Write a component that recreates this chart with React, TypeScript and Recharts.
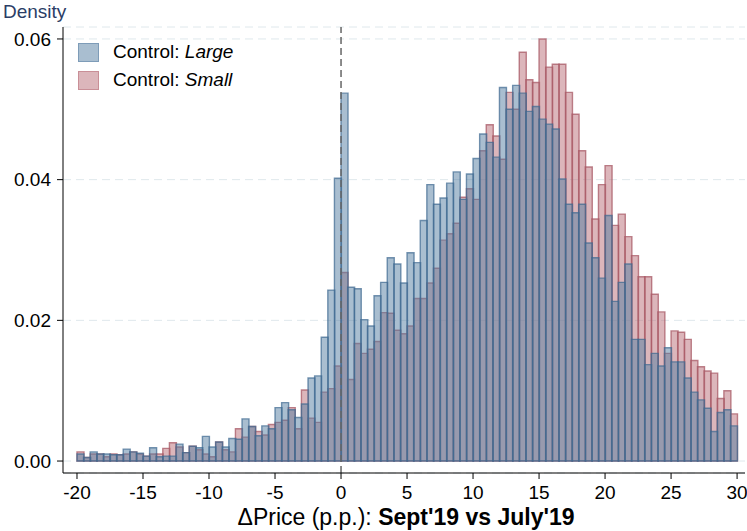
import React from "react";
import {
  Bar,
  ComposedChart,
  CartesianGrid,
  Label,
  Legend,
  ReferenceLine,
  XAxis,
  YAxis,
} from "recharts";

// histogram bins: 0.5 p.p. wide, first bin starts at -20
const binStart = -20;
const binWidth = 0.5;

// density per bin
const largeDensity = [
  0.001, 0.0005, 0.0013, 0.001, 0.001, 0.0009, 0.0009, 0.0017, 0.0013, 0.0011,
  0.0007, 0.0019, 0.0006, 0.0007, 0.0007, 0.0024, 0.0012, 0.0021, 0.0019, 0.0035,
  0.002, 0.0027, 0.002, 0.0032, 0.0031, 0.006, 0.0049, 0.0036, 0.005, 0.0046,
  0.0076, 0.0083, 0.0073, 0.0062, 0.0081, 0.0118, 0.0121, 0.0176, 0.0243, 0.0402,
  0.0523, 0.0247, 0.0245, 0.0201, 0.0192, 0.0235, 0.0254, 0.0289, 0.028, 0.0253,
  0.0296, 0.0282, 0.0342, 0.0393, 0.0365, 0.0374, 0.0395, 0.0411, 0.0372, 0.0408,
  0.043, 0.0465, 0.0453, 0.0432, 0.0531, 0.05, 0.0534, 0.0523, 0.0497, 0.0504,
  0.0486, 0.0479, 0.0472, 0.0401, 0.0365, 0.0353, 0.0365, 0.031, 0.0289, 0.026,
  0.0349, 0.0227, 0.0254, 0.028, 0.0173, 0.0173, 0.0137, 0.0153, 0.0135, 0.0161,
  0.0141, 0.0141, 0.0118, 0.0098, 0.0087, 0.0075, 0.0042, 0.0069, 0.0073, 0.005,
];

const smallDensity = [
  0.0013, 0.0005, 0.001, 0.001, 0.0006, 0.001, 0.0009, 0.001, 0.0013, 0.001,
  0.0007, 0.001, 0.001, 0.0018, 0.0026, 0.002, 0.0012, 0.0021, 0.0016, 0.001,
  0.0006, 0.0027, 0.0016, 0.0013, 0.0046, 0.0034, 0.0049, 0.0042, 0.0037, 0.0052,
  0.0055, 0.0058, 0.0076, 0.0046, 0.0101, 0.0061, 0.0055, 0.0098, 0.0103, 0.0135,
  0.0268, 0.0116, 0.0167, 0.0153, 0.0159, 0.017, 0.0211, 0.021, 0.0186, 0.0181,
  0.0192, 0.0231, 0.0231, 0.0253, 0.0274, 0.0314, 0.0323, 0.0338, 0.0375, 0.0387,
  0.0372, 0.0441, 0.0478, 0.0462, 0.0429, 0.0524, 0.05, 0.0581, 0.0542, 0.0538,
  0.06, 0.056, 0.0564, 0.0564, 0.0524, 0.0493, 0.0441, 0.0418, 0.0344, 0.0393,
  0.042, 0.0335, 0.0351, 0.0319, 0.0292, 0.0262, 0.0262, 0.0237, 0.0212, 0.0153,
  0.0185, 0.0183, 0.0173, 0.0143, 0.0134, 0.0128, 0.0125, 0.0089, 0.01, 0.0067,
];

const xTicks = [-20, -15, -10, -5, 0, 5, 10, 15, 20, 25, 30];
const yTicks = [0, 0.02, 0.04, 0.06];

const seriesNames = ["Control: ", "Large", "Small"];

const data = largeDensity.map((large, i) => ({
  x: binStart + binWidth * i + binWidth / 2,
  large,
  small: smallDensity[i],
}));

const BLUE = "#537da1";
const BLUE_EDGE = "#3d6890";
const RED = "#b96d77";
const RED_EDGE = "#a85a66";

function LegendBox() {
  const rows = [
    { label: seriesNames[1], fill: "#a9bed0", border: "#7e9cb8" },
    { label: seriesNames[2], fill: "#dcb6bb", border: "#c98f97" },
  ];
  return (
    <div style={{ fontSize: 19, color: "#000" }}>
      {rows.map((r) => (
        <div key={r.label} style={{ display: "flex", alignItems: "center", height: 28 }}>
          <span
            style={{
              display: "inline-block",
              width: 19,
              height: 17,
              background: r.fill,
              border: `1.5px solid ${r.border}`,
              marginRight: 14,
            }}
          />
          <span>
            {seriesNames[0]}
            <i>{r.label}</i>
          </span>
        </div>
      ))}
    </div>
  );
}

export default function App() {
  return (
    <div
      style={{
        position: "absolute",
        left: 0,
        top: 0,
        width: 747,
        height: 531,
        background: "#fff",
        fontFamily: "'Liberation Sans', Arial, sans-serif",
      }}
    >
      <ComposedChart
        width={747}
        height={531}
        data={data}
        margin={{ top: 27, right: 2, bottom: 0, left: 0 }}
        barCategoryGap={0}
        barGap={0}
      >
        <CartesianGrid
          xAxisId="main"
          vertical={false}
          stroke="#dfe8ec"
          strokeDasharray="8 5"
        />
        <XAxis
          xAxisId="main"
          type="number"
          dataKey="x"
          domain={[-21.06, 30.6]}
          allowDataOverflow
          ticks={xTicks}
          height={58}
          tickSize={6}
          tickMargin={7}
          stroke="#000"
          tick={{ fill: "#000", fontSize: 19 }}
        >
          <Label
            content={(props: any) => {
              const vb = props.viewBox;
              return (
                <text
                  x={vb.x + vb.width / 2 + 2}
                  y={vb.y + 52}
                  textAnchor="middle"
                  fontSize={23}
                  fill="#000"
                >
                  <tspan>ΔPrice (p.p.): </tspan>
                  <tspan fontWeight="bold">Sept'19 vs July'19</tspan>
                </text>
              );
            }}
          />
        </XAxis>
        <XAxis
          xAxisId="small"
          type="number"
          dataKey="x"
          domain={[-21.06, 30.6]}
          allowDataOverflow
          hide
        />
        <YAxis
          type="number"
          domain={[-0.0017, 0.0617]}
          allowDataOverflow
          ticks={yTicks}
          width={63}
          tickSize={6}
          tickMargin={6}
          stroke="#000"
          tick={{ fill: "#000", fontSize: 19 }}
          tickFormatter={(v: number) => v.toFixed(2)}
        >
          <Label
            content={(props: any) => {
              const vb = props.viewBox;
              return (
                <text x={vb.x + 3} y={vb.y - 9} fontSize={19} fill="#2b3d66">
                  Density
                </text>
              );
            }}
          />
        </YAxis>
        <Bar
          xAxisId="small"
          dataKey="small"
          fill={RED}
          fillOpacity={0.5}
          stroke={RED_EDGE}
          strokeOpacity={0.75}
          strokeWidth={1.4}
          isAnimationActive={false}
        />
        <Bar
          xAxisId="main"
          dataKey="large"
          fill={BLUE}
          fillOpacity={0.5}
          stroke={BLUE_EDGE}
          strokeOpacity={0.7}
          strokeWidth={1.4}
          isAnimationActive={false}
        />
        <ReferenceLine
          xAxisId="main"
          x={0}
          stroke="#666"
          strokeWidth={1.5}
          strokeDasharray="7 4"
        />
        <Legend
          layout="horizontal"
          verticalAlign="middle"
          align="center"
          wrapperStyle={{ left: 78, top: 38, width: "auto" }}
          content={() => <LegendBox />}
        />
      </ComposedChart>
    </div>
  );
}
